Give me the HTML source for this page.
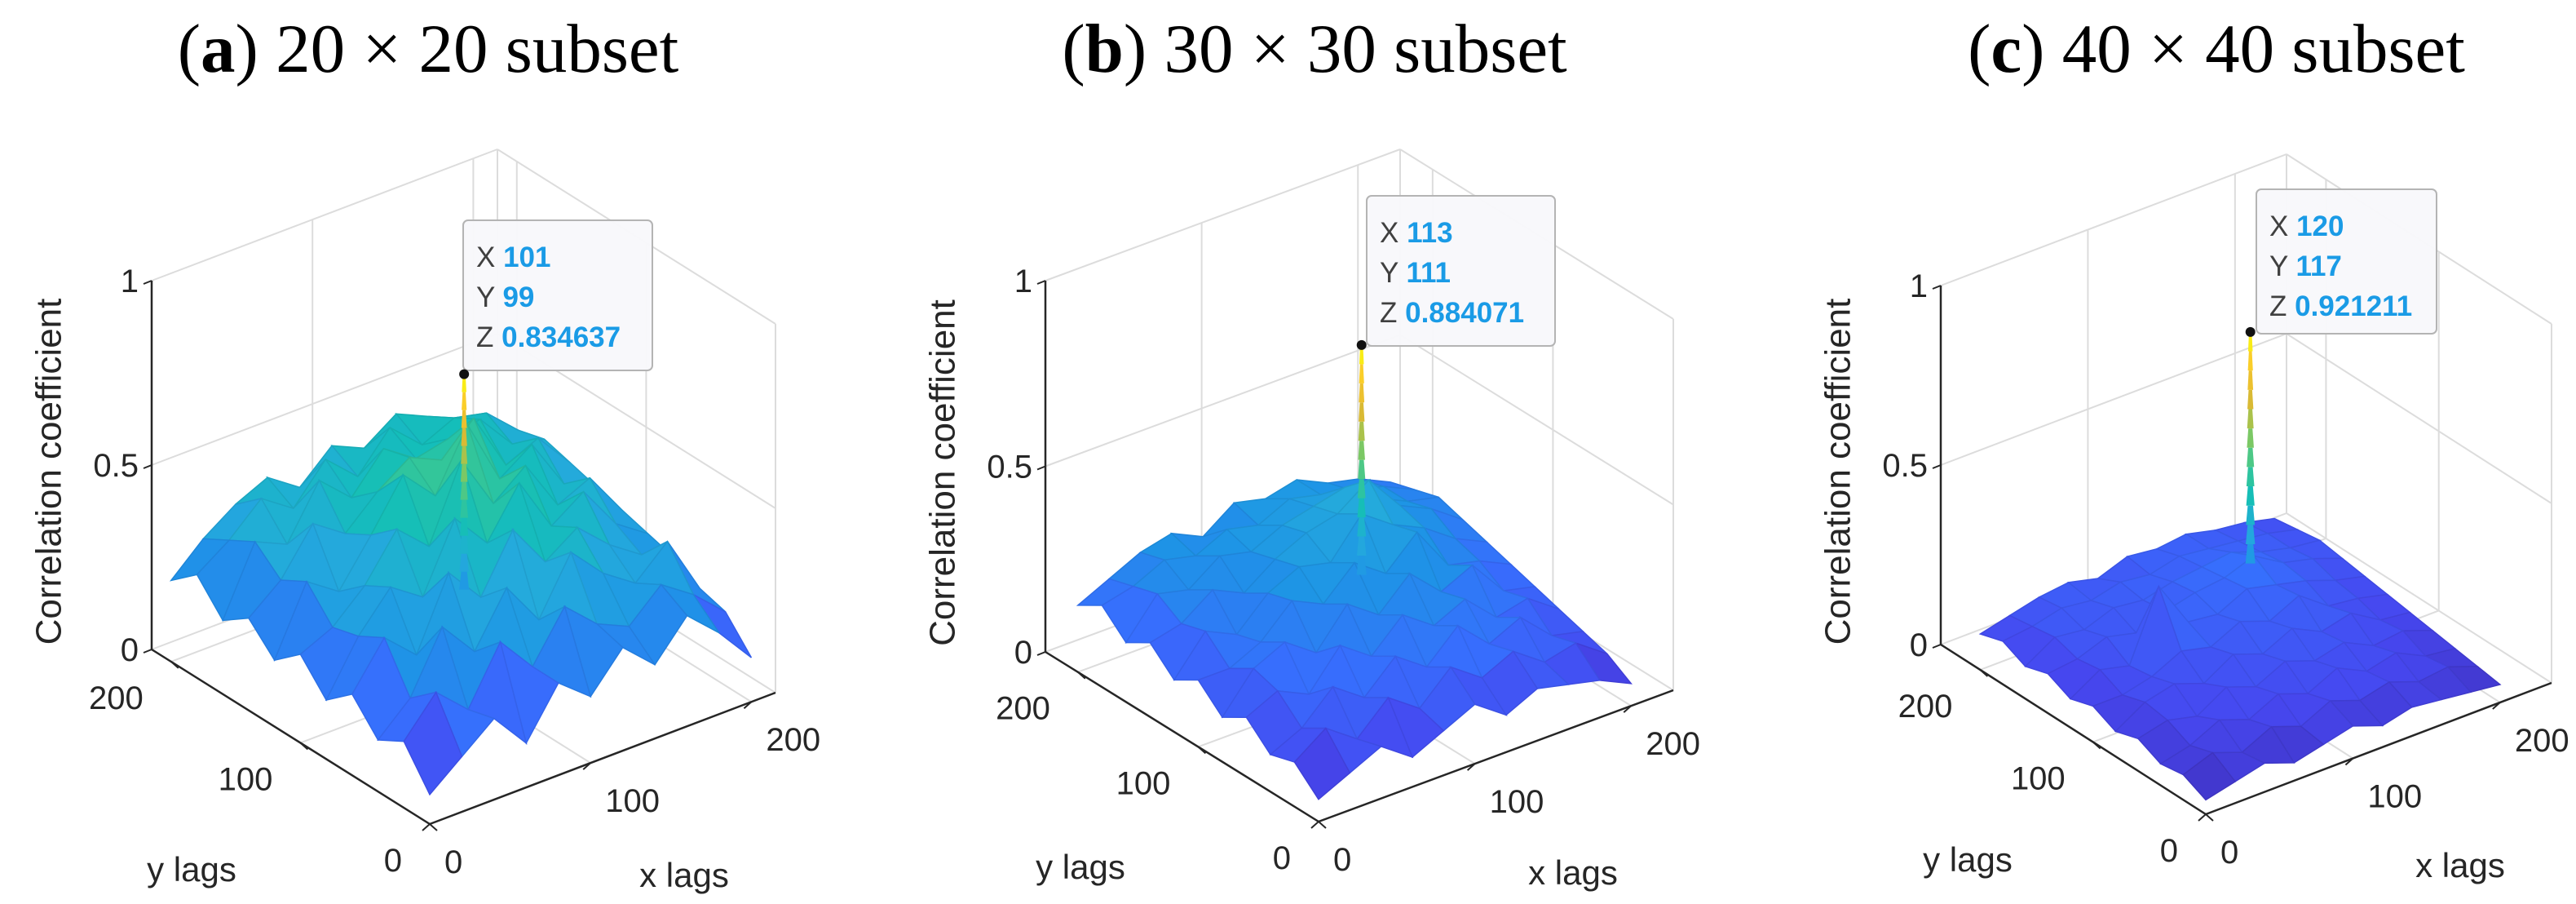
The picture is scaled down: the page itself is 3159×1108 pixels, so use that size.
<!DOCTYPE html>
<html><head><meta charset="utf-8">
<style>
html,body{margin:0;padding:0;background:#fff;}
svg{display:block;}
.title{font-family:"Liberation Serif",serif;font-size:85px;fill:#000;}
.tick{font-family:"Liberation Sans",sans-serif;font-size:40px;fill:#262626;}
.axl{font-family:"Liberation Sans",sans-serif;font-size:42px;fill:#262626;}
.zl{font-family:"Liberation Sans",sans-serif;font-size:44px;fill:#262626;}
.tip{font-family:"Liberation Sans",sans-serif;font-size:35px;}
</style></head>
<body>
<svg id="fig" width="3159" height="1108" viewBox="0 0 3159 1108" xmlns="http://www.w3.org/2000/svg">
<text class="title" x="525" y="88" text-anchor="middle">(<tspan font-weight="bold">a</tspan>) 20 × 20 subset</text>
<text class="title" x="1612" y="88" text-anchor="middle">(<tspan font-weight="bold">b</tspan>) 30 × 30 subset</text>
<text class="title" x="2718" y="88" text-anchor="middle">(<tspan font-weight="bold">c</tspan>) 40 × 40 subset</text>
</svg>
<script>
// grid sample positions (lags) for the coarse surface arrays
const lagSamples = [0,20,40,60,80,100,120,140,160,180,200];
const zTicks = [0, 0.5, 1];
const zTickLabels = ["0","0.5","1"];
const lagTicks = [0,100,200];
const lagTickLabels = ["0","100","200"];

// Panel a: rows = y lag samples, cols = x lag samples
const surfA = [
[.08,.15,.22,.12,.25,.18,.28,.20,.30,.22,.12],
[.18,.28,.20,.35,.25,.38,.30,.26,.34,.28,.20],
[.14,.22,.38,.28,.42,.30,.45,.36,.30,.38,.22],
[.22,.34,.26,.45,.35,.50,.38,.44,.36,.30,.26],
[.16,.30,.40,.34,.52,.42,.55,.40,.46,.34,.28],
[.24,.28,.36,.48,.40,.60,.45,.52,.38,.42,.30],
[.18,.36,.30,.42,.55,.46,.62,.44,.50,.36,.32],
[.25,.32,.44,.38,.46,.52,.48,.56,.40,.44,.34],
[.20,.38,.34,.48,.40,.50,.44,.46,.48,.38,.36],
[.28,.34,.42,.36,.46,.38,.48,.40,.44,.42,.34],
[.22,.30,.36,.40,.34,.42,.38,.44,.40,.36,.30]];
const surfB = [
[.06,.10,.14,.08,.12,.16,.10,.14,.12,.10,.06],
[.12,.18,.12,.20,.14,.22,.16,.20,.14,.16,.10],
[.10,.14,.22,.16,.24,.18,.26,.18,.22,.14,.12],
[.16,.20,.16,.26,.20,.28,.22,.26,.18,.20,.14],
[.12,.22,.26,.20,.30,.24,.32,.24,.28,.18,.16],
[.18,.18,.22,.30,.26,.34,.28,.36,.24,.22,.18],
[.14,.24,.20,.28,.32,.30,.40,.34,.30,.24,.20],
[.20,.22,.28,.24,.30,.34,.36,.42,.32,.28,.22],
[.16,.26,.24,.30,.28,.32,.34,.36,.30,.26,.24],
[.22,.24,.28,.26,.30,.28,.32,.30,.28,.26,.22],
[.18,.22,.26,.28,.24,.30,.28,.30,.26,.24,.20]];
const surfC = [
[.04,.06,.08,.05,.07,.09,.06,.08,.07,.06,.05],
[.07,.10,.07,.11,.08,.12,.09,.11,.08,.09,.06],
[.06,.08,.12,.09,.13,.10,.14,.10,.12,.08,.07],
[.09,.11,.09,.14,.11,.15,.12,.14,.10,.11,.08],
[.07,.12,.14,.11,.16,.13,.17,.13,.15,.10,.09],
[.10,.10,.12,.16,.14,.18,.15,.19,.13,.12,.10],
[.08,.13,.11,.30,.17,.16,.20,.18,.16,.13,.11],
[.11,.12,.15,.13,.16,.18,.19,.22,.17,.15,.12],
[.09,.14,.13,.16,.15,.17,.18,.19,.16,.14,.13],
[.12,.13,.15,.14,.16,.15,.17,.16,.15,.14,.12],
[.10,.12,.14,.15,.13,.16,.15,.16,.14,.13,.11]];
const peakX = [101,113,120];
const peakY = [99,111,117];
const peakZ = [0.834637,0.884071,0.921211];
const peakLabelZ = ["0.834637","0.884071","0.921211"];

const NS="http://www.w3.org/2000/svg";
const svg=document.getElementById('fig');
function mk(tag,attrs,parent){const e=document.createElementNS(NS,tag);for(const k in attrs)e.setAttribute(k,attrs[k]);(parent||svg).appendChild(e);return e;}

const parula=[[0,62,38,168],[0.1,70,72,240],[0.2,55,110,253],[0.3,30,148,230],[0.4,36,170,220],[0.5,20,190,185],[0.6,60,200,145],[0.7,140,200,90],[0.8,220,185,50],[0.9,250,200,45],[1,249,251,14]];
function cmapRGB(t){t=Math.max(0,Math.min(1,t));for(let k=1;k<parula.length;k++){if(t<=parula[k][0]){const a=parula[k-1],b=parula[k];const f=(t-a[0])/(b[0]-a[0]);return [a[1]+f*(b[1]-a[1]),a[2]+f*(b[2]-a[2]),a[3]+f*(b[3]-a[3])];}}return [249,251,14];}
function cmap(t,dk){const c=cmapRGB(t);const m=dk||1;return `rgb(${Math.round(c[0]*m)},${Math.round(c[1]*m)},${Math.round(c[2]*m)})`;}

const panels=[
 {id:'a',O:[527,1010],X:[951,849],Y:[186,796],H:452,R:215,surf:surfA,tip:[568,270,232,184]},
 {id:'b',O:[1617,1007],X:[2052,846],Y:[1282,799],H:455,R:227,surf:surfB,tip:[1676,240,231,184]},
 {id:'c',O:[2705,998],X:[3129,837],Y:[2380,790],H:440,R:235,surf:surfC,tip:[2767,232,221,177]}];

panels.forEach((p,pi)=>{
 const g=mk('g',{});
 
 
 const P=(x,y,z)=>[p.O[0]+x/p.R*(p.X[0]-p.O[0])+y/p.R*(p.Y[0]-p.O[0]), p.O[1]+x/p.R*(p.X[1]-p.O[1])+y/p.R*(p.Y[1]-p.O[1])-z*p.H];
 const line=(a,b,col,w,name)=>{const l=mk('line',{x1:a[0],y1:a[1],x2:b[0],y2:b[1],stroke:col,'stroke-width':w},g);return l;};
 const R=p.R, gc='#dcdcdc';
 zTicks.forEach(z=>{
  line(P(0,R,z),P(R,R,z),gc,2,'grid-line');
  line(P(R,0,z),P(R,R,z),gc,2,'grid-line');
 });
 lagTicks.forEach(t=>{ if(t>0){line(P(t,R,0),P(t,R,1),gc,2,'grid-line');line(P(R,t,0),P(R,t,1),gc,2,'grid-line');}
  line(P(t,0,0),P(t,R,0),gc,2,'grid-line');line(P(0,t,0),P(R,t,0),gc,2,'grid-line');});
 line(P(R,R,0),P(R,R,1),gc,2,'grid-line');
 line(P(R,0,0),P(R,0,1),gc,2,'grid-line');
 const S=p.surf, n=lagSamples.length;
 const zmax=peakZ[pi];
 const quads=[];
 for(let j=0;j<n-1;j++)for(let i=0;i<n-1;i++)quads.push([i,j]);
 quads.sort((a,b)=>(b[0]+b[1])-(a[0]+a[1]));
 const sg=mk('g',{},g);
 
 
 quads.forEach(([i,j])=>{
  const c=[[i,j],[i+1,j],[i+1,j+1],[i,j+1]];
  const pts=c.map(([a,b])=>P(lagSamples[a],lagSamples[b],S[b][a]));
  const zs=c.map(([a,b])=>S[b][a]);
  const zmin=Math.min(...zs), zav=zs.reduce((s,v)=>s+v,0)/4;
  const zc=0.65*zmin+0.35*zav;
  const col=cmap(zc/zmax);
  const q=mk('polygon',{points:pts.map(v=>v.join(',')).join(' '),fill:col,stroke:cmap(zc/zmax,0.93),'stroke-width':1.5},sg);
  
  
 });
 const base=0.3*zmax, steps=12;
 for(let k=0;k<steps;k++){
  const z1=base+(zmax-base)*k/steps, z2=base+(zmax-base)*(k+1)/steps;
  const a=P(peakX[pi],peakY[pi],z1), b=P(peakX[pi],peakY[pi],z2);
  const w=6-3.5*k/steps;
  const s=mk('polygon',{points:`${a[0]-w},${a[1]} ${a[0]+w},${a[1]} ${b[0]+w*0.6},${b[1]} ${b[0]-w*0.6},${b[1]}`,fill:cmap((z1+z2)/2/zmax)},g);
  
  
 }
 line(P(0,R,0),P(0,R,1),'#262626',2.5,'z-axis');
 line(p.O,P(R,0,0),'#262626',2.5,'x-axis');
 line(p.O,P(0,R,0),'#262626',2.5,'y-axis');
 zTicks.forEach((z,k)=>{const q=P(0,R,z);
  line(q,[q[0]-10,q[1]+4],'#262626',2,'z-tick');
  const t=mk('text',{x:q[0]-16,y:q[1]+14,'text-anchor':'end',class:'tick'},g);t.textContent=zTickLabels[k];
  
  });
 lagTicks.forEach((v,k)=>{
  const qy=P(0,v,0); line(qy,[qy[0]+9,qy[1]+8],'#262626',2,'y-tick');
  const ty=mk('text',{x:qy[0]-34,y:qy[1]+58,'text-anchor':'end',class:'tick'},g);ty.textContent=lagTickLabels[k];
  
  
  const qx=P(v,0,0); line(qx,[qx[0]-9,qx[1]+8],'#262626',2,'x-tick');
  const tx=mk('text',{x:qx[0]+18,y:qx[1]+60,'text-anchor':'start',class:'tick'},g);tx.textContent=lagTickLabels[k];
  
  
 });
 const yl=mk('text',{x:p.O[0]-292,y:p.O[1]+70,'text-anchor':'middle',class:'axl'},g);yl.textContent='y lags';
 
 
 const xl=mk('text',{x:p.O[0]+312,y:p.O[1]+77,'text-anchor':'middle',class:'axl'},g);xl.textContent='x lags';
 
 
 const zc=P(0,R,0.5); const zx=zc[0]-126, zy=zc[1]+8;
 const zl=mk('text',{x:zx,y:zy,'text-anchor':'middle','dominant-baseline':'central',class:'zl',transform:`rotate(-90 ${zx} ${zy})`},g);zl.textContent='Correlation coefficient';
 
 
 const pk=P(peakX[pi],peakY[pi],peakZ[pi]);
 const [tx0,ty0,tw,th]=p.tip;
 const tg=mk('g',{},g);
 
 
 const r=mk('rect',{x:tx0,y:ty0,width:tw,height:th,rx:6,fill:'#f8f8fb','fill-opacity':0.95,stroke:'#b4b4b4','stroke-width':2},tg);
 
 
 const rows=[['X',String(peakX[pi])],['Y',String(peakY[pi])],['Z',peakLabelZ[pi]]];
 rows.forEach((rw,k)=>{const t=mk('text',{x:tx0+16,y:ty0+57+k*49,class:'tip'},tg);
  const a=mk('tspan',{fill:'#404040'},t);a.textContent=rw[0]+' ';
  const b=mk('tspan',{fill:'#1a9be6','font-weight':'bold'},t);b.textContent=rw[1];
  
  });
 const d=mk('circle',{cx:pk[0],cy:pk[1],r:6,fill:'#111'},g);
 
 
});
</script>
</body></html>
